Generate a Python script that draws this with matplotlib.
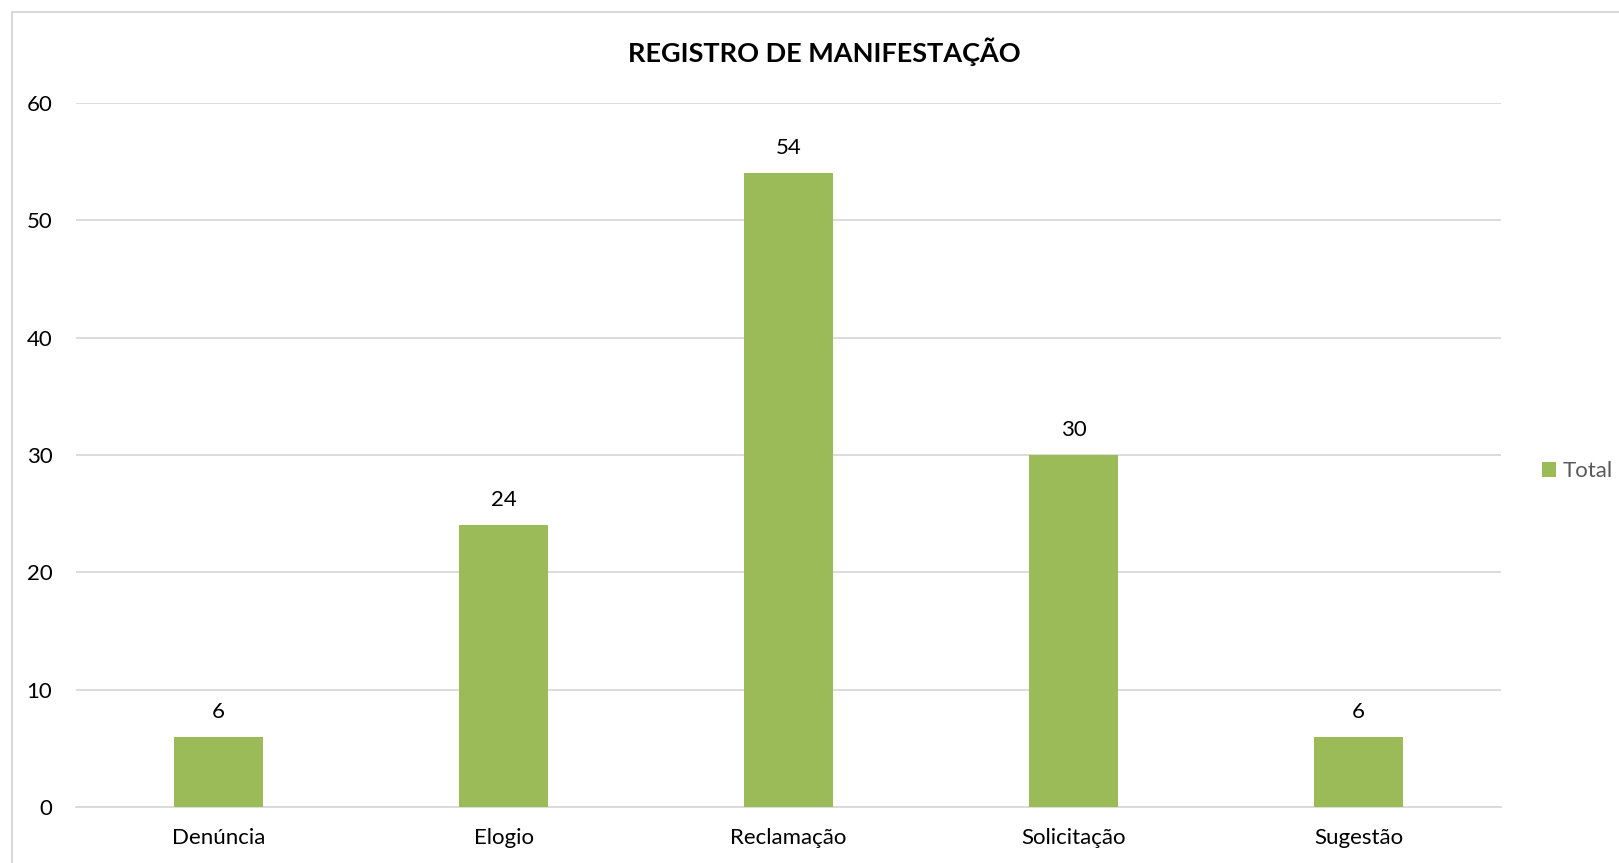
import matplotlib.pyplot as plt
from matplotlib.patches import Rectangle

plt.rcParams['font.family'] = ['Lato', 'DejaVu Sans']

categorias = ['Denúncia', 'Elogio', 'Reclamação', 'Solicitação', 'Sugestão']
total = [6, 24, 54, 30, 6]
titulo = 'REGISTRO DE MANIFESTAÇÃO'

W, H = 1619, 863
fig = plt.figure(figsize=(W / 100, H / 100), dpi=100)

# moldura do grafico (estilo Excel)
fig.patches.append(Rectangle((12 / W, -0.01), 1.02, (H - 11) / H + 0.01 - 1 / H,
                             transform=fig.transFigure, fill=False,
                             edgecolor='#D9D9D9', linewidth=1.5))

ax = fig.add_axes([76 / W, (H - 807) / H, (1501 - 76) / W, (807 - 103) / H])
x = range(len(categorias))
barras = ax.bar(x, total, width=0.31, color='#9BBB59', label='Total', zorder=3)

ax.set_xlim(-0.5, len(categorias) - 0.5)
ax.set_ylim(0, 60)
ax.set_yticks(range(0, 61, 10))
ax.set_xticks(list(x))
ax.set_xticklabels(categorias)
ax.grid(axis='y', color='#D9D9D9', linewidth=1.3, zorder=0)
for s in ['top', 'right', 'left']:
    ax.spines[s].set_visible(False)
ax.spines['bottom'].set_color('#D9D9D9')
ax.spines['bottom'].set_linewidth(1.3)
ax.tick_params(axis='both', length=0, labelsize=16, colors='#000000')
ax.tick_params(axis='y', pad=17)
ax.tick_params(axis='x', pad=15)

for b, v in zip(barras, total):
    ax.annotate(str(v), (b.get_x() + b.get_width() / 2, v), xytext=(0, 18),
                textcoords='offset points', ha='center', va='center',
                fontsize=16, color='#000000')

fig.text(0.5 * (628 + 1020) / W, (H - 52) / H, titulo, ha='center', va='center',
         fontsize=19.5, fontweight='bold', color='#000000')

leg = fig.legend(handles=[barras], labels=['Total'], loc='center left',
                 bbox_to_anchor=(1542 / W, (H - 471) / H), frameon=False,
                 fontsize=16, handlelength=0.65, handleheight=0.65,
                 handletextpad=0.3, borderpad=0, borderaxespad=0,
                 labelcolor='#595959')

fig.savefig('out.png', dpi=100)
